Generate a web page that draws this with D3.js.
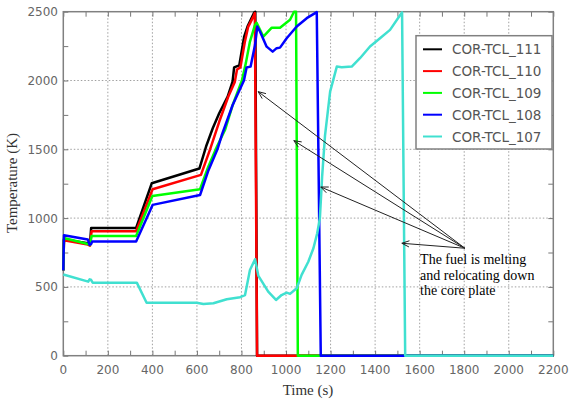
<!DOCTYPE html>
<html>
<head>
<meta charset="utf-8">
<script src="https://cdn.jsdelivr.net/npm/d3@7"></script>
<style>
body { margin: 0; background: #fff; }
svg { display: block; }
</style>
</head>
<body>
<div id="chart"></div>
<script>
// data: [time (s), temperature (K)]
var tcl111 = [[0,620],[3,845],[110,818],[120,812],[125,928],[327,928],[397,1253],[611,1360],[641,1520],[671,1653],[700,1762],[738,1883],[760,1992],[767,2095],[790,2110],[812,2319],[827,2392],[857,2494],[862,2500],[870,0],[2200,0]]
var tcl110 = [[0,620],[3,838],[110,808],[120,800],[127,905],[327,905],[401,1210],[618,1314],[659,1500],[700,1700],[740,1880],[770,1990],[780,2080],[795,2095],[815,2280],[830,2390],[855,2470],[860,2490],[870,0],[2200,0]]
var tcl109 = [[0,620],[3,855],[110,812],[120,805],[127,870],[327,870],[400,1161],[614,1210],[650,1370],[690,1520],[726,1640],[760,1820],[802,2000],[820,2130],[838,2283],[860,2400],[868,2420],[898,2319],[936,2384],[973,2384],[1018,2441],[1036,2500],[1045,2500],[1053,0],[2200,0]]
var tcl108 = [[0,620],[3,875],[110,845],[118,805],[125,812],[130,830],[327,830],[401,1096],[614,1168],[650,1340],[692,1500],[711,1600],[760,1820],[811,2000],[823,2095],[841,2101],[861,2259],[871,2392],[883,2356],[913,2246],[940,2210],[958,2235],[973,2239],[1003,2307],[1048,2392],[1093,2453],[1138,2497],[1156,0],[2200,0]]
var tcl107 = [[0,590],[112,538],[118,555],[124,552],[132,531],[330,531],[374,385],[599,385],[629,376],[674,381],[734,410],[794,425],[816,441],[838,623],[861,701],[876,580],[920,465],[955,405],[980,441],[1003,458],[1018,449],[1048,490],[1070,587],[1100,683],[1123,781],[1140,890],[1152,1000],[1162,1300],[1175,1600],[1198,1919],[1228,2101],[1250,2097],[1295,2101],[1332,2162],[1377,2247],[1422,2307],[1467,2368],[1515,2482],[1521,2495],[1535,0],[2200,0]]

var seriesNames = ["COR-TCL_111", "COR-TCL_110", "COR-TCL_109", "COR-TCL_108", "COR-TCL_107"]
var seriesData = [tcl111, tcl110, tcl109, tcl108, tcl107]
var seriesColors = ["#000000", "#ff0000", "#00ff00", "#0000ff", "#40e0d0"]

var xTicks = [0,200,400,600,800,1000,1200,1400,1600,1800,2000,2200]
var yTicks = [0,500,1000,1500,2000,2500]

// annotation: arrow origin and targets
var arrowFrom = [1803, 781]
var arrowTargets = [[875,1919],[1035,1563],[1156,1226],[1520,817]]
var noteLines = ["The fuel is melting", "and relocating down", "the core plate"]

var width = 569, height = 401
var svg = d3.select("#chart").append("svg").attr("width", width).attr("height", height)

var x = d3.scaleLinear().domain([0, 2200]).range([63.3, 553.3])
var y = d3.scaleLinear().domain([0, 2500]).range([355.7, 11.7])

// grid
var grid = svg.append("g")
grid.selectAll(".gx").data(xTicks.slice(1, -1)).enter().append("line")
    .attr("x1", function(d) { return x(d) }).attr("x2", function(d) { return x(d) })
    .attr("y1", y(0)).attr("y2", y(2500))
    .attr("stroke", "#a0a0a0").attr("stroke-width", 1).attr("stroke-dasharray", "1.5,2")
grid.selectAll(".gy").data(yTicks.slice(1, -1)).enter().append("line")
    .attr("y1", function(d) { return y(d) }).attr("y2", function(d) { return y(d) })
    .attr("x1", x(0)).attr("x2", x(2200))
    .attr("stroke", "#a0a0a0").attr("stroke-width", 1).attr("stroke-dasharray", "1.5,2")

// axes with inward ticks on all four sides
var tickColor = "#777"
svg.append("g").attr("transform", "translate(0," + y(0) + ")")
    .call(d3.axisBottom(x).tickValues(d3.range(0, 2201, 100)).tickSize(-5).tickFormat(""))
svg.append("g").attr("transform", "translate(0," + y(2500) + ")")
    .call(d3.axisTop(x).tickValues(d3.range(0, 2201, 100)).tickSize(-5).tickFormat(""))
svg.append("g").attr("transform", "translate(" + x(0) + ",0)")
    .call(d3.axisLeft(y).tickValues(d3.range(0, 2501, 250)).tickSize(-5).tickFormat(""))
svg.append("g").attr("transform", "translate(" + x(2200) + ",0)")
    .call(d3.axisRight(y).tickValues(d3.range(0, 2501, 250)).tickSize(-5).tickFormat(""))
svg.selectAll(".domain").remove()
svg.selectAll(".tick line").attr("stroke", tickColor).attr("stroke-width", 1)

// tick labels
svg.append("g").selectAll("text").data(xTicks).enter().append("text")
    .attr("x", function(d) { return x(d) }).attr("y", 374)
    .attr("text-anchor", "middle").attr("font-family", "DejaVu Sans").attr("font-size", 12)
    .attr("fill", "#666").text(function(d) { return d })
svg.append("g").selectAll("text").data(yTicks).enter().append("text")
    .attr("x", 58).attr("y", function(d) { return y(d) + 4.5 })
    .attr("text-anchor", "end").attr("font-family", "DejaVu Sans").attr("font-size", 12)
    .attr("fill", "#666").text(function(d) { return d })

// frame
svg.append("rect").attr("x", x(0)).attr("y", y(2500))
    .attr("width", x(2200) - x(0)).attr("height", y(0) - y(2500))
    .attr("fill", "none").attr("stroke", "#808080").attr("stroke-width", 1.5)

// series
var line = d3.line().x(function(d) { return x(d[0]) }).y(function(d) { return y(d[1]) })
svg.append("g").selectAll("path").data(seriesData).enter().append("path")
    .attr("d", line).attr("fill", "none")
    .attr("stroke", function(d, i) { return seriesColors[i] })
    .attr("stroke-width", 2.5).attr("stroke-linejoin", "round")

// axis titles
svg.append("text").attr("x", 308).attr("y", 395).attr("text-anchor", "middle")
    .attr("font-family", "Liberation Serif").attr("font-size", 15).attr("fill", "#333").text("Time (s)")
svg.append("text").attr("transform", "translate(17,183) rotate(-90)").attr("text-anchor", "middle")
    .attr("font-family", "Liberation Serif").attr("font-size", 15).attr("fill", "#333").text("Temperature (K)")

// arrows
var ax0 = x(arrowFrom[0]), ay0 = y(arrowFrom[1])
var arrows = svg.append("g")
arrowTargets.forEach(function(t) {
    var tx = x(t[0]), ty = y(t[1])
    arrows.append("line").attr("x1", ax0).attr("y1", ay0).attr("x2", tx).attr("y2", ty)
        .attr("stroke", "#222").attr("stroke-width", 1)
    var ang = Math.atan2(ay0 - ty, ax0 - tx), len = 8, spread = 0.4
    var p1 = [tx + len * Math.cos(ang + spread), ty + len * Math.sin(ang + spread)]
    var p2 = [tx + len * Math.cos(ang - spread), ty + len * Math.sin(ang - spread)]
    arrows.append("path").attr("d", "M" + p1 + "L" + tx + "," + ty + "L" + p2)
        .attr("fill", "none").attr("stroke", "#222").attr("stroke-width", 1)
})

// note text
svg.append("g").selectAll("text").data(noteLines).enter().append("text")
    .attr("x", x(1602)).attr("y", function(d, i) { return 264 + i * 15.5 })
    .attr("font-family", "Liberation Serif").attr("font-size", 14).attr("fill", "#000")
    .text(function(d) { return d })

// legend
var legend = svg.append("g")
legend.append("rect").attr("x", 416).attr("y", 35.7).attr("width", 136).attr("height", 113.3)
    .attr("fill", "#fff").attr("stroke", "#808080").attr("stroke-width", 1.5)
seriesNames.forEach(function(name, i) {
    var ly = 49.3 + i * 21.8
    legend.append("line").attr("x1", 423).attr("x2", 442).attr("y1", ly).attr("y2", ly)
        .attr("stroke", seriesColors[i]).attr("stroke-width", 2)
    legend.append("text").attr("x", 452).attr("y", ly + 5).attr("font-family", "DejaVu Sans")
        .attr("font-size", 13.5).attr("fill", "#555").text(name)
})
</script>
</body>
</html>
